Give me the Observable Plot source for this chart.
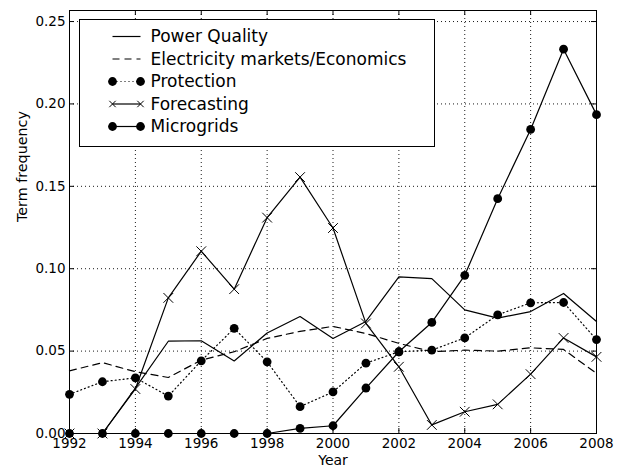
<!DOCTYPE html>
<html>
<head>
<meta charset="utf-8">
<script src="https://cdn.jsdelivr.net/npm/d3@7"></script>
<script src="https://cdn.jsdelivr.net/npm/@observablehq/plot@0.6"></script>
<style>
  html, body { margin: 0; padding: 0; background: #fff; }
  #chart { width: 627px; height: 468px; }
  svg { font-family: "DejaVu Sans", sans-serif; }
</style>
</head>
<body>
<div id="chart"></div>
<script>
const years = [1992, 1993, 1994, 1995, 1996, 1997, 1998, 1999, 2000, 2001, 2002, 2003, 2004, 2005, 2006, 2007, 2008];
const powerQuality = [0, 0, 0.0275, 0.056, 0.0563, 0.044, 0.061, 0.071, 0.0577, 0.068, 0.095, 0.094, 0.075, 0.070, 0.074, 0.085, 0.068];
const electricityMarkets = [0.038, 0.043, 0.0375, 0.034, 0.0445, 0.0496, 0.0577, 0.062, 0.065, 0.0607, 0.0547, 0.0496, 0.0506, 0.050, 0.052, 0.051, 0.0365];
const protection = [0.0238, 0.0314, 0.0338, 0.0227, 0.0441, 0.0638, 0.0435, 0.0163, 0.0252, 0.0427, 0.0496, 0.0506, 0.058, 0.072, 0.0793, 0.0795, 0.057];
const forecasting = [0, 0, 0.027, 0.0823, 0.1106, 0.0876, 0.131, 0.1556, 0.1247, 0.0668, 0.0405, 0.0052, 0.0132, 0.0177, 0.036, 0.058, 0.0465];
const microgrids = [0, 0, 0, 0, 0, 0, 0, 0.0031, 0.0047, 0.0276, 0.0496, 0.0674, 0.096, 0.1425, 0.1845, 0.2332, 0.1935];
const seriesNames = ["Power Quality", "Electricity markets/Economics", "Protection", "Forecasting", "Microgrids"];
const xTicks = [1992, 1994, 1996, 1998, 2000, 2002, 2004, 2006, 2008];
const yTicks = [0, 0.05, 0.10, 0.15, 0.20, 0.25];
const yMax = 0.2567;

const seriesValues = [powerQuality, electricityMarkets, protection, forecasting, microgrids];
const styles = {
  "Power Quality": {dash: null, marker: null},
  "Electricity markets/Economics": {dash: "7,5", marker: null},
  "Protection": {dash: "1,3", marker: "dot"},
  "Forecasting": {dash: null, marker: "times"},
  "Microgrids": {dash: null, marker: "dot"}
};
const rows = seriesNames.map((name, k) => years.map((year, i) => ({series: name, year, value: seriesValues[k][i]})));

const marks = [];
// grid
marks.push(Plot.gridX(xTicks, {stroke: "black", strokeOpacity: 0.9, strokeWidth: 1, strokeDasharray: "1,3"}));
marks.push(Plot.gridY(yTicks, {stroke: "black", strokeOpacity: 0.9, strokeWidth: 1, strokeDasharray: "1,3"}));
// series
rows.forEach((data, k) => {
  const st = styles[seriesNames[k]];
  marks.push(Plot.line(data, {x: "year", y: "value", stroke: "black", strokeWidth: 1.2, strokeDasharray: st.dash}));
  if (st.marker === "dot") {
    marks.push(Plot.dot(data, {x: "year", y: "value", r: 4.4, fill: "black", stroke: "none"}));
  } else if (st.marker === "times") {
    marks.push(Plot.dot(data, {x: "year", y: "value", r: 4.5, symbol: "times", stroke: "black", strokeWidth: 1, fill: "none"}));
  }
});
// inward ticks on all four sides
const tx = 5 / 32.94, ty = 5 / 1650;
marks.push(Plot.ruleX(xTicks, {x: d => d, y1: 0, y2: ty, stroke: "black"}));
marks.push(Plot.ruleX(xTicks, {x: d => d, y1: yMax, y2: yMax - ty, stroke: "black"}));
marks.push(Plot.ruleY(yTicks, {y: d => d, x1: 1992, x2: 1992 + tx, stroke: "black"}));
marks.push(Plot.ruleY(yTicks, {y: d => d, x1: 2008, x2: 2008 - tx, stroke: "black"}));
// axes
marks.push(Plot.axisX(xTicks, {tickSize: 0, tickPadding: 5, tickFormat: d => String(d), fontSize: 13.5, label: null}));
marks.push(Plot.axisY(yTicks, {tickSize: 0, tickPadding: 4, tickFormat: d3.format(".2f"), fontSize: 13.5, label: null}));
marks.push(Plot.frame({stroke: "black", strokeWidth: 1}));
// axis titles
marks.push(Plot.text(["Year"], {frameAnchor: "bottom", dy: 31, text: d => d, fontSize: 14, fill: "black"}));
marks.push(Plot.text(["Term frequency"], {frameAnchor: "left", dx: -47, rotate: -90, text: d => d, fontSize: 14.3, fill: "black"}));

const chart = Plot.plot({
  width: 627,
  height: 468,
  marginLeft: 69,
  marginRight: 31,
  marginTop: 10,
  marginBottom: 35,
  x: {domain: [1992, 2008], axis: null},
  y: {domain: [0, yMax], axis: null},
  style: {fontFamily: "DejaVu Sans, sans-serif", fontSize: "13.5px", color: "black", background: "white"},
  marks
});
document.getElementById("chart").appendChild(chart);

// legend drawn inside the plot svg
const svg = d3.select(chart);
const lg = svg.append("g").attr("transform", "translate(79.5,19.5)").attr("text-anchor", "start");
lg.append("rect").attr("width", 355).attr("height", 127).attr("fill", "white").attr("stroke", "black").attr("stroke-width", 1);
seriesNames.forEach((name, k) => {
  const st = styles[name];
  const yy = 17 + k * 22.5;
  const g = lg.append("g").attr("transform", `translate(0,${yy})`);
  const ln = g.append("line").attr("x1", 33).attr("x2", 61).attr("y1", 0).attr("y2", 0)
    .attr("stroke", "black").attr("stroke-width", 1.2);
  if (st.dash) ln.attr("stroke-dasharray", st.dash);
  if (st.marker === "dot") {
    [33, 61].forEach(x => g.append("circle").attr("cx", x).attr("cy", 0).attr("r", 4.4).attr("fill", "black"));
  } else if (st.marker === "times") {
    [33, 61].forEach(x => g.append("path").attr("d", `M${x-3.2},-3.2L${x+3.2},3.2M${x-3.2},3.2L${x+3.2},-3.2`).attr("stroke", "black").attr("stroke-width", 1).attr("fill", "none"));
  }
  g.append("text").attr("x", 71).attr("y", 0).attr("dy", "0.35em").attr("text-anchor", "start")
    .attr("font-size", 17).attr("fill", "black").text(name);
});
</script>
</body>
</html>
